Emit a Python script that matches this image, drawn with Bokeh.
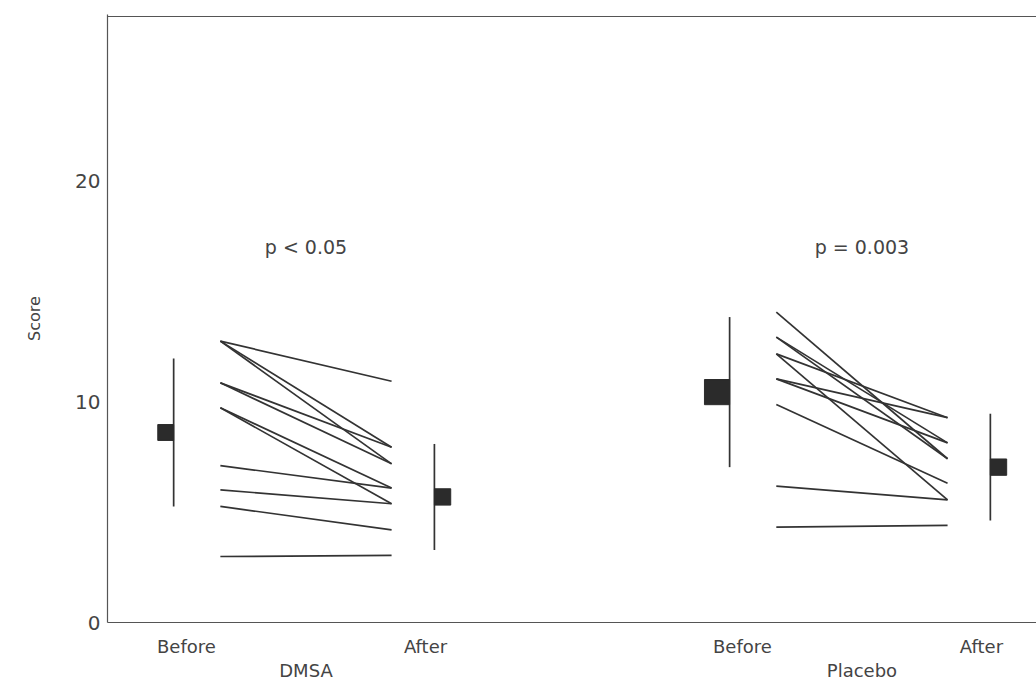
import numpy as np
from bokeh.plotting import figure
from bokeh.models import Range1d, FixedTicker, LinearAxis, Span
from bokeh.core.properties import value
from bokeh.embed import file_html
from bokeh.resources import INLINE

# ---------------- data ----------------
groups = ["DMSA", "Placebo"]
p_texts = ["p < 0.05", "p = 0.003"]
p_text_y = [17.0, 17.0]

dmsa_before = [12.75, 12.75, 12.75, 10.86, 10.86, 9.73, 9.73, 7.11, 6.01, 5.26, 2.99]
dmsa_after = [10.93, 7.94, 7.19, 7.94, 7.19, 6.09, 5.38, 6.09, 5.38, 4.20, 3.04]
placebo_before = [14.06, 12.93, 12.93, 12.17, 12.17, 11.04, 11.04, 9.88, 6.18, 4.32]
placebo_after = [7.42, 8.14, 7.42, 9.28, 5.56, 9.28, 8.14, 6.31, 5.56, 4.40]

mean_before = [8.61, 10.44]
mean_after = [5.69, 7.04]
sd_before = [3.35, 3.40]
sd_after = [2.40, 2.42]
sem_before = [0.36, 0.57]
sem_after = [0.37, 0.37]

y_ticks = [0, 10, 20]

# ---------------- layout ----------------
FRAME_W, FRAME_H = 929, 608
X0, X1 = -0.357, 1.314
Y0, Y1 = 0.0, 27.55
TOP_LINE = 27.46
LINE_OFF = 0.154      # start/end of patient lines relative to group centre
MARK_B = -0.238       # before summary marker
MARK_A = 0.231        # after summary marker
LAB_OFF = 0.215       # Before / After label offset
px_x = FRAME_W / (X1 - X0)
px_y = FRAME_H / (Y1 - Y0)

INK = "#333333"
TXT = "#444444"
FONT = "DejaVu Sans"

p = figure(frame_width=FRAME_W, frame_height=FRAME_H,
           x_range=Range1d(X0, X1), y_range=Range1d(Y0, Y1),
           output_backend="svg", toolbar_location=None,
           x_axis_location=None, y_axis_location=None,
           min_border_left=107, min_border_right=0, min_border_top=14,
           min_border_bottom=0, background_fill_color="white",
           border_fill_color="white")
p.outline_line_color = None
p.xgrid.visible = False
p.ygrid.visible = False

# y axis
yax = LinearAxis(ticker=FixedTicker(ticks=y_ticks), axis_label="Score")
yax.major_tick_out = 0
yax.major_tick_in = 0
yax.minor_tick_out = 0
yax.minor_tick_in = 0
yax.axis_line_color = "#555555"
yax.axis_line_width = 1.2
yax.major_label_standoff = 7
yax.major_label_text_font = FONT
yax.major_label_text_font_size = "20px"
yax.major_label_text_color = TXT
yax.axis_label_text_font = FONT
yax.axis_label_text_font_size = "16px"
yax.axis_label_text_font_style = "normal"
yax.axis_label_text_color = TXT
yax.axis_label_standoff = 28
p.add_layout(yax, "left")

# x axis: Before / After
gx = np.arange(len(groups), dtype=float)
ba_ticks = []
ba_over = {}
for g in gx:
    b = float(g - LAB_OFF)
    a = float(g + LAB_OFF)
    ba_ticks += [b, a]
    ba_over[b] = "Before"
    ba_over[a] = "After"
xax = LinearAxis(ticker=FixedTicker(ticks=ba_ticks), major_label_overrides=ba_over)
xax.major_tick_out = 0
xax.major_tick_in = 0
xax.minor_tick_out = 0
xax.minor_tick_in = 0
xax.axis_line_color = "#555555"
xax.axis_line_width = 1.2
xax.major_label_standoff = 13
xax.major_label_text_font = FONT
xax.major_label_text_font_size = "18px"
xax.major_label_text_color = TXT
p.add_layout(xax, "below")

# x axis: group names
g_over = {float(g): name for g, name in zip(gx, groups)}
gax = LinearAxis(ticker=FixedTicker(ticks=[float(g) for g in gx]), major_label_overrides=g_over)
gax.major_tick_out = 0
gax.major_tick_in = 0
gax.minor_tick_out = 0
gax.minor_tick_in = 0
gax.axis_line_color = None
gax.major_label_standoff = 0
gax.major_label_text_font = FONT
gax.major_label_text_font_size = "18px"
gax.major_label_text_color = TXT
p.add_layout(gax, "below")

# top frame line
p.add_layout(Span(location=TOP_LINE, dimension="width", line_color="#555555", line_width=1.2))

# patient lines
for g, (bef, aft) in zip(gx, [(dmsa_before, dmsa_after), (placebo_before, placebo_after)]):
    n = len(bef)
    p.segment(x0=[g - LINE_OFF] * n, y0=bef, x1=[g + LINE_OFF] * n, y1=aft,
              line_color=INK, line_width=1.7)

# summary markers
mb = np.array(mean_before); ma = np.array(mean_after)
sb = np.array(sd_before); sa = np.array(sd_after)
eb = np.array(sem_before); ea = np.array(sem_after)
xb = gx + MARK_B
xa = gx + MARK_A
p.segment(x0=xb, y0=mb - sb, x1=xb, y1=mb + sb, line_color=INK, line_width=1.7)
p.segment(x0=xa, y0=ma - sa, x1=xa, y1=ma + sa, line_color=INK, line_width=1.7)
wb = 2 * eb * px_y / px_x
wa = 2 * ea * px_y / px_x
p.quad(left=xb - wb, right=xb, bottom=mb - eb, top=mb + eb,
       fill_color="#2b2b2b", line_color="#2b2b2b")
p.quad(left=xa, right=xa + wa, bottom=ma - ea, top=ma + ea,
       fill_color="#2b2b2b", line_color="#2b2b2b")

# p-value annotations
p.text(x=gx, y=p_text_y, text=p_texts, text_align="center", text_baseline="middle",
       text_font=value(FONT), text_font_size="19px", text_color=TXT)

open("out.html", "w").write(file_html(p, INLINE))
